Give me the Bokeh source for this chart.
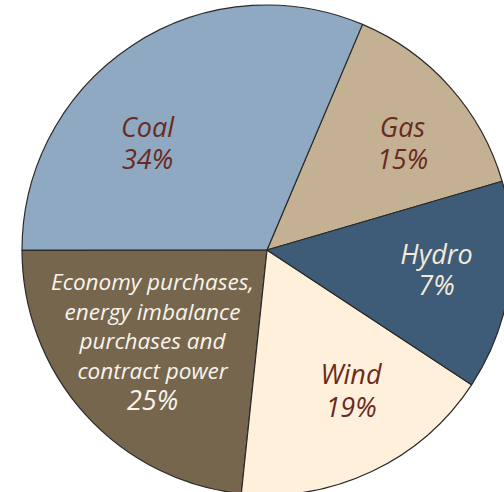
from bokeh.plotting import figure
from bokeh.models import ColumnDataSource
from bokeh.core.properties import value
from bokeh.embed import file_html
from bokeh.resources import INLINE
import numpy as np

# ---- data (slice order: anticlockwise starting from Gas) ----
categories = ["Gas", "Coal",
              "Economy purchases,\nenergy imbalance\npurchases and\ncontract power",
              "Wind", "Hydro"]
pct_labels = ["15%", "34%", "25%", "19%", "7%"]
# share of the circle each slice occupies in the picture (percent)
shares = [14.1, 31.4, 23.3, 17.4, 13.8]
colors = ["#C4B193", "#8FA9C2", "#76664D", "#FFF0DC", "#3E5B78"]
text_colors = ["#6B2A1E", "#6B2A1E", "#F8F4EC", "#6B2A1E", "#F3EAD8"]

# ---- layout ----
W, H = 504, 492
start_deg = 16.3
cx, cy, R = 266.5, H - 249.5, 245
# first-line position (picture px), name font size, line step, per slice
label_anchor = [(402, 126), (147, 126), (152, 281), (350.5, 373), (436, 253)]
name_size = [27, 27, 22.5, 27, 27]
pct_size = 27
label_step = [32, 32, 29.5, 33, 31]

fr = np.array(shares) / np.sum(shares)
ends = np.deg2rad(start_deg) + 2 * np.pi * np.cumsum(fr)
starts = np.concatenate([[np.deg2rad(start_deg)], ends[:-1]])

src = ColumnDataSource(dict(start=starts, end=ends, color=colors))

p = figure(width=W, height=H, x_range=(0, W), y_range=(0, H),
           output_backend="svg", toolbar_location=None, min_border=0)
p.axis.visible = False
p.grid.visible = False
p.outline_line_color = None
p.background_fill_color = "white"
p.border_fill_color = "white"

p.wedge(x=cx, y=cy, radius=R, start_angle="start", end_angle="end",
        direction="anticlock", fill_color="color", line_color="#2a2a2a",
        line_width=1.2, source=src)

xs, ys, ts, cs, ss = [], [], [], [], []
for i, cat in enumerate(categories):
    lines = cat.split("\n") + [pct_labels[i]]
    ax, ay = label_anchor[i]
    for k, ln in enumerate(lines):
        xs.append(ax)
        ys.append(H - (ay + k * label_step[i]))
        ts.append(ln)
        cs.append(text_colors[i])
        sz = pct_size if k == len(lines) - 1 else name_size[i]
        ss.append(f"{sz}px")

tsrc = ColumnDataSource(dict(x=xs, y=ys, text=ts, color=cs, size=ss))
p.text(x="x", y="y", text="text", text_color="color", text_font_size="size",
       text_font=value("Open Sans"), text_font_style="italic",
       text_align="center", text_baseline="alphabetic", source=tsrc)

open("out.html", "w").write(file_html(p, INLINE))
